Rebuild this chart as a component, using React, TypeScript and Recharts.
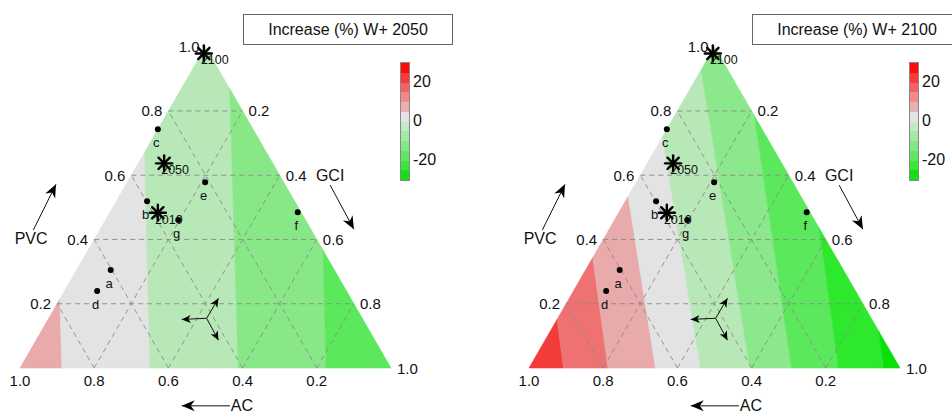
import { ComposedChart, Area, Scatter, XAxis, YAxis, ReferenceLine } from "recharts";

// ternary layout: PVC at the apex, AC bottom-left, GCI bottom-right
const H = Math.sqrt(3) / 2;
const FONT = "'Liberation Sans', Arial, sans-serif";

const tickValues = [0.2, 0.4, 0.6, 0.8, 1.0];
const gridValues = [0.2, 0.4, 0.6, 0.8];

const pointNames = ["a", "b", "c", "d", "e", "f", "g"];
const pointPVC = [0.305, 0.519, 0.743, 0.24, 0.578, 0.485, 0.461];
const pointGCI = [0.092, 0.083, 0.0, 0.088, 0.21, 0.506, 0.196];

const yearNames = ["2010", "2050", "2100"];
const yearPVC = [0.483, 0.637, 0.979];
const yearGCI = [0.13, 0.07, 0.006];

// contour band edges: x where the edge meets the base, and x at apex height
const edges2050Base = [0.113, 0.35, 0.588, 0.825];
const edges2050Top = [0.087, 0.329, 0.562, 0.803];
const colors2050 = ["#e8aaaa", "#e3e3e3", "#b8e8b8", "#88e888", "#5ce85c"];

const edges2100Base = [0.093, 0.213, 0.341, 0.462, 0.5955, 0.708, 0.834, 0.956];
const edges2100Top = [-0.02, 0.093, 0.203, 0.32, 0.454, 0.58, 0.716, 0.843];
const colors2100 = ["#f23c3c", "#ef7272", "#e8aaaa", "#e3e3e3", "#b8e8b8", "#8ce88c", "#5ce85c", "#2ee82e", "#08e008"];

// colour bar
const scaleLevels = [30, 25, 20, 15, 10, 5, 0, -5, -10, -15, -20, -25, -30];
const scaleColors = ["#ff0a0a", "#f83a3a", "#f26464", "#f08a8a", "#e8b0b0", "#e3e3e3", "#c2eac2", "#a3e8a3", "#84e884", "#62e662", "#3ce43c", "#12e012"];
const scaleTicks = [20, 0, -20];

// axis arrows (cartesian units of the triangle, side = 1)
const axisNames = ["PVC", "GCI", "AC"];
const axisLabelX = [0.03, 0.836, 0.598];
const axisLabelY = [0.348, 0.518, -0.102];
const axisTail = [[0.036, 0.372], [0.836, 0.493], [0.566, -0.102]];
const axisTip = [[0.097, 0.495], [0.9, 0.374], [0.436, -0.102]];
const triadCenter = [0.503, 0.134];
const triadTips = [[0.436, 0.131], [0.535, 0.188], [0.535, 0.075]];

const toXY = (pvc: number, gci: number) => ({ x: gci + pvc / 2, y: pvc * H });

type P = { x: number; y: number };

function clip(poly: P[], f: (p: P) => number): P[] {
  const out: P[] = [];
  for (let i = 0; i < poly.length; i++) {
    const cur = poly[i];
    const prev = poly[(i + poly.length - 1) % poly.length];
    const fc = f(cur);
    const fp = f(prev);
    const cross = () => {
      const t = fp / (fp - fc);
      return { x: prev.x + t * (cur.x - prev.x), y: prev.y + t * (cur.y - prev.y) };
    };
    if (fc >= 0) {
      if (fp < 0) out.push(cross());
      out.push(cur);
    } else if (fp >= 0) out.push(cross());
  }
  return out;
}

function bandAreas(base: number[], top: number[]) {
  const tri: P[] = [{ x: 0, y: 0 }, { x: 1, y: 0 }, { x: 0.5, y: H }];
  const edgeX = (i: number, y: number) => base[i] + (top[i] - base[i]) * (y / H);
  const res: { x: number; range: [number, number] }[][] = [];
  for (let b = 0; b <= base.length; b++) {
    let poly = tri;
    if (b > 0) poly = clip(poly, (p) => p.x - edgeX(b - 1, p.y));
    if (b < base.length) poly = clip(poly, (p) => edgeX(b, p.y) - p.x);
    const xs = Array.from(new Set(poly.map((p) => +p.x.toFixed(6)))).sort((a, c) => a - c);
    const rows = xs.map((x) => {
      let lo = Infinity;
      let hi = -Infinity;
      for (let i = 0; i < poly.length; i++) {
        const a = poly[i];
        const c = poly[(i + 1) % poly.length];
        const mn = Math.min(a.x, c.x) - 1e-6;
        const mx = Math.max(a.x, c.x) + 1e-6;
        if (x < mn || x > mx) continue;
        if (Math.abs(c.x - a.x) < 1e-6) {
          lo = Math.min(lo, a.y, c.y);
          hi = Math.max(hi, a.y, c.y);
        } else {
          const y = a.y + ((x - a.x) / (c.x - a.x)) * (c.y - a.y);
          lo = Math.min(lo, y);
          hi = Math.max(hi, y);
        }
      }
      return { x, range: [lo, hi] as [number, number] };
    });
    res.push(rows);
  }
  return res;
}

const tickLabels = [
  ...tickValues.map((v) => ({ ...toXY(v, 0), text: v.toFixed(1), anchor: "end", dx: -6, dy: 0 })),
  ...tickValues.map((v) => ({ ...toXY(1 - v, v), text: v.toFixed(1), anchor: "start", dx: 6, dy: 0 })),
  ...tickValues.map((v) => ({ x: 1 - v, y: 0, text: v.toFixed(1), anchor: "middle", dx: 0, dy: 12 })),
];
const dots = pointNames.map((n, i) => ({ ...toXY(pointPVC[i], pointGCI[i]), text: n }));
const years = yearNames.map((n, i) => ({ ...toXY(yearPVC[i], yearGCI[i]), text: n }));
const axisLabels = axisNames.map((n, i) => ({ x: axisLabelX[i], y: axisLabelY[i], text: n }));

const shafts = [
  ...axisTail.map((t, i) => ({ from: t, to: axisTip[i], big: true })),
  ...triadTips.map((t) => ({ from: triadCenter, to: t, big: false })),
];
const heads = shafts.map((s) => ({
  x: s.to[0],
  y: s.to[1],
  angle: (Math.atan2(-(s.to[1] - s.from[1]), s.to[0] - s.from[0]) * 180) / Math.PI,
  big: s.big,
}));

const TextMark = (size: number, dx = 0, dy = 0, anchor = "middle") => (props: any) => {
  const { cx, cy, payload } = props;
  return (
    <text
      x={cx + (payload.dx ?? dx)}
      y={cy + (payload.dy ?? dy)}
      textAnchor={payload.anchor ?? anchor}
      dominantBaseline="central"
      fontSize={size}
      fontFamily={FONT}
      fill="#111"
    >
      {payload.text}
    </text>
  );
};

const DotMark = (props: any) => <circle cx={props.cx} cy={props.cy} r={3} fill="#000" />;

const StarMark = (props: any) => {
  const { cx, cy } = props;
  const r = 8;
  return (
    <g stroke="#000" strokeWidth={2.4} strokeLinecap="round">
      {[0, 45, 90, 135].map((a) => {
        const rad = (a * Math.PI) / 180;
        return (
          <line key={a} x1={cx - r * Math.cos(rad)} y1={cy - r * Math.sin(rad)} x2={cx + r * Math.cos(rad)} y2={cy + r * Math.sin(rad)} />
        );
      })}
    </g>
  );
};

const HeadMark = (props: any) => {
  const { cx, cy, payload } = props;
  const d = payload.big ? "M0,0 L-13,-5.5 L-9,0 L-13,5.5 Z" : "M0,0 L-9,-4 L-6.5,0 L-9,4 Z";
  return <path d={d} fill="#000" transform={`translate(${cx},${cy}) rotate(${payload.angle})`} />;
};

const PANEL_H = 414;
const BASE_Y = 368;
const OX = 20;
const UNIT = 371;

function ColorBar() {
  const top = 62;
  const h = 117;
  return (
    <div style={{ position: "absolute", left: OX + 380, top }}>
      <div style={{ width: 8, height: h, border: "1px solid #888", display: "flex", flexDirection: "column" }}>
        {scaleColors.map((c, i) => (
          <div key={i} style={{ flex: 1, background: c }} />
        ))}
      </div>
      {scaleTicks.map((t) => (
        <div
          key={t}
          style={{
            position: "absolute",
            left: 13,
            top: ((scaleLevels[0] - t) / (scaleLevels[0] - scaleLevels[scaleLevels.length - 1])) * h - 9,
            fontSize: 16,
            lineHeight: "18px",
            fontFamily: FONT,
            color: "#111",
          }}
        >
          {t}
        </div>
      ))}
    </div>
  );
}

function Panel({ left, width, title, base, top, colors }: any) {
  const areas = bandAreas(base, top);
  const xDomain = [-OX / UNIT, (width - OX) / UNIT];
  const yDomain = [-(PANEL_H - BASE_Y) / UNIT, BASE_Y / UNIT];
  return (
    <div style={{ position: "absolute", left, top: 0, width, height: PANEL_H, overflow: "hidden" }}>
      <ComposedChart width={width} height={PANEL_H} margin={{ top: 0, right: 0, bottom: 0, left: 0 }}>
        <XAxis type="number" dataKey="x" domain={xDomain} hide allowDataOverflow />
        <YAxis type="number" domain={yDomain} hide allowDataOverflow />
        {areas.map((d, i) => (
          <Area
            key={`band${i}`}
            data={d}
            dataKey="range"
            type="linear"
            fill={colors[i]}
            fillOpacity={1}
            stroke={colors[i]}
            strokeWidth={0.6}
            dot={false}
            activeDot={false}
            isAnimationActive={false}
          />
        ))}
        {gridValues.map((v) => [
          { a: toXY(v, 0), b: toXY(v, 1 - v) },
          { a: toXY(0, v), b: toXY(1 - v, v) },
          { a: toXY(0, 1 - v), b: toXY(1 - v, 0) },
        ]).flat().map((s, i) => (
          <ReferenceLine
            key={`g${i}`}
            segment={[{ x: s.a.x, y: s.a.y }, { x: s.b.x, y: s.b.y }]}
            stroke="#8a8a8a"
            strokeWidth={0.9}
            strokeDasharray="5 4"
          />
        ))}
        {shafts.map((s, i) => (
          <ReferenceLine
            key={`s${i}`}
            segment={[{ x: s.from[0], y: s.from[1] }, { x: s.to[0], y: s.to[1] }]}
            stroke="#111"
            strokeWidth={1}
          />
        ))}
        <Scatter data={heads} dataKey="y" shape={HeadMark} isAnimationActive={false} />
        <Scatter data={tickLabels} dataKey="y" shape={TextMark(15)} isAnimationActive={false} />
        <Scatter data={axisLabels} dataKey="y" shape={TextMark(16)} isAnimationActive={false} />
        <Scatter data={dots} dataKey="y" shape={DotMark} isAnimationActive={false} />
        <Scatter data={dots} dataKey="y" shape={TextMark(13, -1.5, 13.5)} isAnimationActive={false} />
        <Scatter data={years} dataKey="y" shape={StarMark} isAnimationActive={false} />
        <Scatter data={years} dataKey="y" shape={TextMark(12.5, 11, 7)} isAnimationActive={false} />
      </ComposedChart>
      <div
        style={{
          position: "absolute",
          left: OX + 223,
          top: 14,
          width: 208,
          height: 29,
          border: "1px solid #666",
          fontFamily: FONT,
          fontSize: 16,
          lineHeight: "29px",
          textAlign: "center",
          color: "#111",
          background: "#fff",
        }}
      >
        {title}
      </div>
      <ColorBar />
    </div>
  );
}

export default function App() {
  return (
    <div style={{ position: "relative", width: 952, height: 414, overflow: "hidden", background: "#fff" }}>
      <style>{"body{margin:0}"}</style>
      <Panel left={0} width={509} title="Increase (%) W+ 2050" base={edges2050Base} top={edges2050Top} colors={colors2050} />
      <Panel left={509} width={443} title="Increase (%) W+ 2100" base={edges2100Base} top={edges2100Top} colors={colors2100} />
    </div>
  );
}
